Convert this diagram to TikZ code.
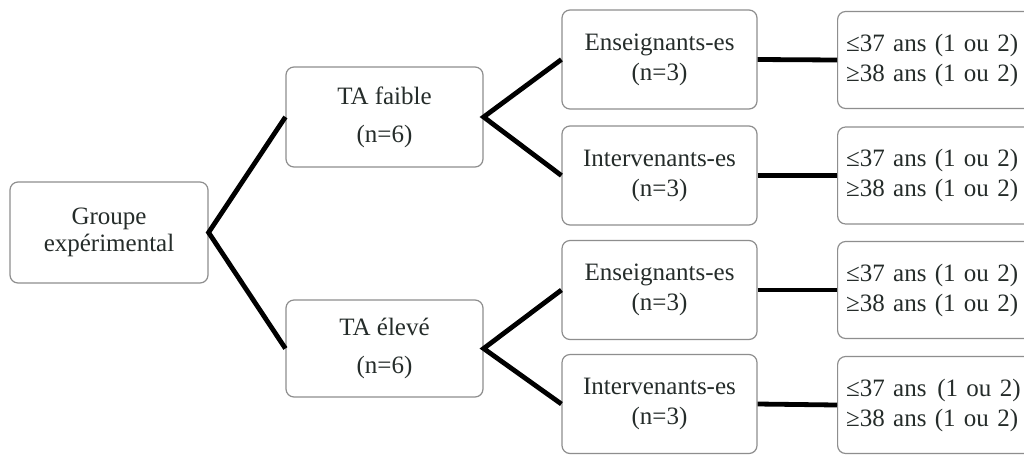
\documentclass[tikz,border=0pt]{standalone}
\usepackage{fontspec}
\setmainfont{Liberation Serif}
\definecolor{boxgray}{HTML}{8E8E8E}
\definecolor{txt}{HTML}{252C2A}
\begin{document}
\begin{tikzpicture}[x=1pt,y=-1pt,
  box/.style={draw=boxgray, rounded corners=8pt, line width=1.2pt, fill=white,
    inner sep=0pt, align=center, text=txt, font=\fontsize{25}{30}\selectfont},
  tabox/.style={box, font=\fontsize{25}{38}\selectfont, minimum width=197pt},
  midbox/.style={box, minimum width=195pt, minimum height=99pt},
  agebox/.style={box, anchor=west, align=left, minimum width=200pt, minimum height=97pt,
    text width=183pt, inner xsep=8pt},
  link/.style={line width=4.8pt, black}]
\useasboundingbox (0,0) rectangle (1024,456);
\clip (0,0) rectangle (1024,456);
\fill[white] (0,0) rectangle (1024,456);

\node[box, minimum width=198pt, minimum height=101pt, font=\fontsize{25}{27}\selectfont] (grp) at (109,232.5) {Groupe\\expérimental};
\node[tabox, minimum height=100pt] (taf) at (384.5,117) {TA faible\\(n=6)};
\node[tabox, minimum height=97pt] (tae) at (384.5,348.5) {TA élevé\\(n=6)};

\node[midbox] (ens1) at (659.5,59.5) {Enseignants-es\\(n=3)};
\node[midbox] (int1) at (659.5,175.5) {Intervenants-es\\(n=3)};
\node[midbox] (ens2) at (659.5,290) {Enseignants-es\\(n=3)};
\node[midbox] (int2) at (659.5,404) {Intervenants-es\\(n=3)};

\node[agebox] (age1) at (837,60) {≤37 ans (1 ou 2)\\≥38 ans (1 ou 2)};
\node[agebox] (age2) at (837,175.5) {≤37 ans (1 ou 2)\\≥38 ans (1 ou 2)};
\node[agebox] (age3) at (837,290) {≤37 ans (1 ou 2)\\≥38 ans (1 ou 2)};
\node[agebox] (age4) at (837,405) {≤37 ans\hspace{2.5pt} (1 ou 2)\\≥38 ans (1 ou 2)};

\draw[link] (taf.west) -- (grp.east) -- (tae.west);
\draw[link] (ens1.west) -- (taf.east) -- (int1.west);
\draw[link] (ens2.west) -- (tae.east) -- (int2.west);
\draw[link] (ens1.east) -- (age1.west);
\draw[link] (int1.east) -- (age2.west);
\draw[link] (ens2.east) -- (age3.west);
\draw[link] (int2.east) -- (age4.west);
\end{tikzpicture}
\end{document}
